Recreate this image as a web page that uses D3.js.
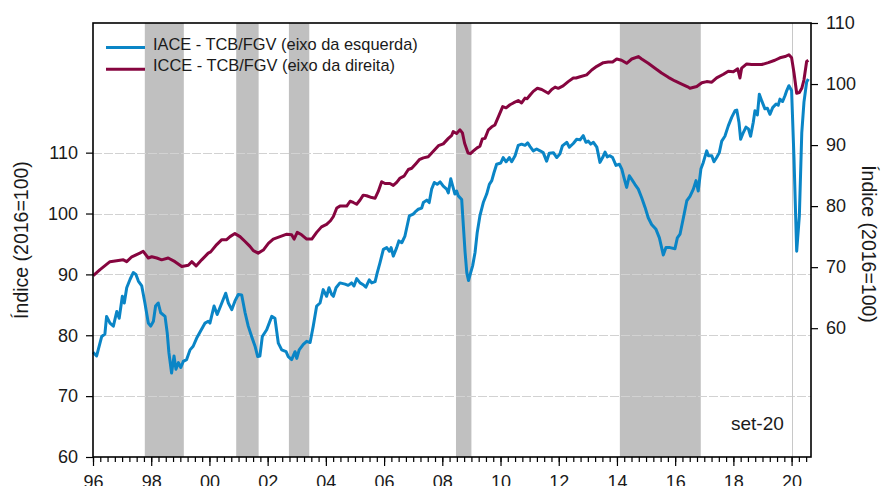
<!DOCTYPE html>
<html>
<head>
<meta charset="utf-8">
<script src="https://cdn.jsdelivr.net/npm/d3@7"></script>
<style>
  body { margin: 0; background: #fff; }
  svg text { font-family: "Liberation Sans", Arial, sans-serif; fill: #1a1a1a; }
</style>
</head>
<body>
<div class="plot"></div>
<script>
// month offsets from Jan 1996 and index values
var iaceMonth = [0, 1.5, 3.6, 4.9, 5.6, 7.0, 8.4, 9.8, 10.8, 12.1, 12.9, 13.9, 15.3, 16.6, 17.7, 18.7, 20.1, 21.4, 22.8, 23.8,
  24.9, 25.8, 26.9, 27.9, 29.7, 30.6, 31.3, 32.4, 33.4, 34.2, 35.2, 36.2, 37.2, 38.6, 40.0, 41.3, 42.7, 46.2, 47.5, 48.2,
  49.9, 51.2, 53.1, 54.7, 55.8, 57.2, 58.5, 59.9, 61.3, 62.7, 64.0, 65.4, 66.8, 67.9, 68.8, 69.8, 71.6, 73.7, 75.0, 76.4,
  77.8, 79.6, 80.5, 81.9, 83.3, 84.0, 85.0, 86.7, 88.1, 89.5, 90.8, 92.2, 93.6, 94.9, 96.3, 97.3, 98.4, 99.1, 100.2, 101.8,
  103.9, 105.2, 106.6, 107.6, 108.7, 110.1, 111.4, 112.5, 113.9, 114.9, 116.3, 117.2, 118.3, 119.7, 121.1, 122.2, 122.9, 123.8, 125.2, 126.1,
  127.3, 128.6, 130.4, 132.0, 133.2, 134.1, 135.5, 136.2, 137.6, 138.6, 139.6, 140.7, 141.9, 143.1, 144.4, 145.8, 146.5, 147.5, 148.3, 149.2,
  149.9, 150.6, 152.0, 152.7, 153.4, 154.1, 154.8, 155.7, 156.5, 157.5, 158.4, 159.5, 160.9, 162.3, 163.4, 164.4, 165.3, 166.4, 168.1, 169.1,
  170.3, 171.6, 172.6, 174.0, 175.3, 176.7, 178.1, 179.2, 180.2, 181.5, 182.9, 184.3, 185.6, 187.0, 188.1, 189.8, 191.2, 192.5, 193.5, 195.3,
  196.4, 198.0, 199.4, 200.8, 202.1, 203.2, 204.2, 205.2, 206.3, 207.7, 209.0, 210.1, 211.1, 212.0, 213.1, 214.2, 215.6, 217.0, 218.0, 218.9,
  220.0, 221.1, 222.1, 223.4, 224.8, 226.2, 227.6, 228.9, 230.3, 232.1, 233.5, 235.1, 236.2, 237.9, 239.9, 240.9, 242.0, 243.4, 244.8, 246.1,
  247.5, 248.6, 249.5, 250.6, 251.6, 253.0, 253.7, 255.1, 256.0, 257.1, 258.2, 259.2, 260.5, 261.9, 263.3, 264.7, 265.4, 266.3, 267.0, 268.1,
  269.2, 270.2, 271.1, 272.2, 272.9, 273.9, 274.7, 275.7, 277.0, 278.0, 279.1, 280.2, 281.6, 282.5, 283.2, 284.3, 285.3, 286.0, 286.9, 288.0,
  289.0, 290.1, 291.2, 292.2, 293.1, 294.2, 294.9];
var iaceValue = [77.2, 76.6, 79.8, 80.2, 83.1, 82.0, 81.5, 83.9, 82.8, 86.4, 85.3, 87.8, 89.2, 90.3, 90.0, 88.9, 88.1, 85.3, 82.0, 81.5,
  82.3, 84.8, 85.3, 83.7, 83.1, 80.4, 77.1, 73.8, 76.6, 74.4, 75.5, 74.7, 75.7, 76.0, 77.6, 78.2, 79.5, 82.0, 82.3, 82.0,
  84.8, 83.4, 85.3, 86.9, 85.3, 84.2, 85.6, 86.7, 86.6, 83.7, 81.5, 79.8, 78.2, 76.5, 76.6, 79.8, 80.9, 83.1, 82.8, 78.7,
  77.6, 77.3, 76.5, 76.0, 77.3, 76.2, 77.6, 78.5, 79.0, 78.8, 81.5, 84.8, 85.3, 87.5, 86.4, 87.8, 86.7, 86.4, 87.8, 88.6,
  88.4, 88.2, 88.6, 88.1, 89.3, 88.6, 88.3, 87.9, 89.1, 88.6, 88.8, 90.3, 91.9, 94.1, 94.4, 93.8, 94.4, 93.0, 94.4, 95.5,
  95.2, 96.3, 99.6, 99.9, 100.4, 100.7, 100.9, 101.8, 102.2, 101.8, 104.0, 105.1, 104.8, 105.2, 104.5, 104.0, 103.4, 105.7, 104.5, 103.2,
  103.7, 102.9, 102.3, 97.9, 93.6, 90.3, 89.0, 90.3, 91.4, 93.6, 96.9, 99.6, 101.8, 103.2, 104.8, 105.4, 106.7, 108.1, 108.3, 109.2,
  108.5, 109.2, 108.5, 109.5, 111.2, 111.4, 111.2, 111.6, 111.0, 110.3, 110.6, 110.3, 110.0, 108.6, 109.9, 110.0, 109.2, 109.8, 111.1, 111.7,
  110.9, 111.5, 112.2, 112.1, 112.8, 111.7, 111.9, 111.4, 111.7, 110.9, 108.4, 109.2, 110.1, 109.3, 109.5, 109.2, 107.9, 108.1, 107.3, 105.9,
  104.3, 106.2, 105.6, 104.8, 104.0, 102.6, 101.0, 99.3, 98.2, 97.4, 96.0, 93.2, 94.4, 94.4, 94.2, 96.0, 96.6, 99.3, 102.1, 102.8,
  104.0, 105.4, 103.7, 107.3, 108.4, 110.3, 109.5, 109.5, 108.5, 109.2, 110.0, 111.9, 112.7, 114.4, 115.8, 116.9, 117.0, 115.0, 112.2, 113.3,
  114.2, 113.9, 112.7, 115.0, 116.9, 116.2, 119.6, 118.5, 117.2, 117.3, 116.3, 117.4, 118.0, 117.8, 118.8, 118.4, 119.4, 120.2, 121.0, 120.2,
  108.9, 93.8, 99.6, 113.3, 118.3, 121.6, 122.1];

var icceMonth = [0.1, 2.9, 7.0, 12.5, 13.9, 16.0, 19.3, 20.7, 22.8, 24.2, 26.3, 28.3, 31.0, 33.8, 36.6, 39.3, 40.7, 42.5, 44.8, 47.5,
  48.5, 51.0, 53.1, 55.1, 56.5, 58.5, 60.6, 62.7, 64.7, 66.1, 68.1, 70.2, 72.3, 74.3, 77.1, 79.9, 81.9, 82.9, 84.2, 86.0,
  88.1, 90.2, 92.2, 94.2, 96.3, 97.9, 99.1, 100.5, 101.8, 104.6, 106.0, 107.3, 108.7, 110.1, 111.4, 112.8, 114.9, 116.3, 117.6, 119.0,
  120.4, 122.4, 123.8, 125.2, 126.6, 128.2, 130.0, 131.4, 133.2, 134.5, 136.2, 138.2, 140.3, 142.4, 144.4, 146.5, 147.9, 148.5, 149.9, 151.3,
  152.3, 153.2, 154.6, 155.6, 156.7, 158.2, 159.5, 160.5, 161.6, 163.0, 164.4, 165.7, 167.5, 168.9, 170.3, 171.9, 173.3, 175.3, 176.7, 178.1,
  179.0, 180.2, 181.5, 183.2, 185.0, 187.7, 189.1, 190.5, 191.8, 193.8, 195.9, 198.0, 199.1, 200.8, 203.5, 205.6, 207.7, 210.4, 212.4, 214.2,
  215.9, 217.9, 220.0, 222.1, 224.8, 226.2, 228.9, 231.7, 234.4, 237.2, 239.9, 242.7, 245.4, 246.1, 248.9, 251.0, 253.0, 255.1, 257.1, 259.9,
  261.9, 264.0, 265.8, 266.7, 267.4, 269.5, 271.5, 273.6, 275.7, 278.4, 281.1, 283.2, 285.3, 286.9, 288.0, 289.0, 290.1, 291.2, 292.2, 293.1,
  294.2, 294.9];
var icceValue = [68.6, 69.6, 70.9, 71.2, 70.9, 71.7, 72.3, 72.6, 71.5, 71.7, 71.5, 71.2, 71.5, 70.9, 70.1, 70.3, 70.9, 70.2, 71.2, 72.3,
  72.5, 73.7, 74.5, 74.5, 75.0, 75.5, 75.0, 74.2, 73.4, 72.7, 72.3, 72.8, 73.9, 74.6, 75.0, 75.4, 75.3, 74.6, 75.7, 75.3,
  74.6, 74.6, 75.7, 76.6, 77.0, 77.6, 78.3, 79.7, 80.0, 80.0, 80.8, 80.6, 80.3, 81.0, 81.8, 81.7, 81.4, 81.3, 82.4, 84.0,
  83.7, 83.7, 83.4, 83.9, 84.6, 84.9, 86.0, 86.2, 87.0, 87.6, 87.9, 88.1, 89.0, 89.9, 90.2, 91.1, 91.6, 92.2, 91.9, 92.5,
  92.0, 90.3, 88.7, 88.6, 89.0, 89.5, 89.8, 91.0, 91.1, 92.5, 93.0, 93.3, 95.0, 96.3, 96.1, 96.6, 96.9, 97.3, 96.9, 97.7,
  97.6, 98.2, 98.8, 99.3, 99.1, 98.5, 99.1, 99.5, 99.3, 99.7, 100.4, 101.0, 101.0, 101.2, 101.5, 102.3, 102.9, 103.5, 103.6, 103.6,
  104.1, 103.9, 103.4, 104.1, 104.5, 104.1, 103.4, 102.6, 101.8, 101.1, 100.5, 100.0, 99.5, 99.3, 99.6, 100.2, 100.4, 100.3, 101.0, 101.6,
  102.1, 102.0, 102.5, 101.0, 102.6, 103.3, 103.2, 103.2, 103.2, 103.5, 103.9, 104.3, 104.5, 104.8, 104.3, 101.8, 98.5, 98.6, 99.3, 100.7,
  103.7, 103.9];

// shaded periods (decimal years)
var bandStart = [1997.78, 2000.92, 2002.73, 2008.47, 2014.10];
var bandEnd = [1999.12, 2001.69, 2003.43, 2009.00, 2016.88];

var yearTicks = [1996, 1998, 2000, 2002, 2004, 2006, 2008, 2010, 2012, 2014, 2016, 2018, 2020];
var leftTicks = [60, 70, 80, 90, 100, 110];
var rightTicks = [60, 70, 80, 90, 100, 110];

var W = 881, H = 486;
var pL = 93, pR = 811, pT = 23, pB = 457;

var svg = d3.select(".plot").append("svg")
  .attr("width", W).attr("height", H);

// month index -> x
var x = d3.scaleLinear().domain([0, 296]).range([pL, pR]);
var yL = d3.scaleLinear().domain([60, 131.3]).range([pB, pT]);
var yR = d3.scaleLinear().domain([38.9, 110]).range([pB, pT]);

function yearToMonth(y) { return (y - 1996) * 12; }

// shaded bands
svg.append("g").selectAll("rect")
  .data(bandStart)
  .enter().append("rect")
  .attr("x", function (d) { return x(yearToMonth(d)); })
  .attr("width", function (d, i) { return x(yearToMonth(bandEnd[i])) - x(yearToMonth(d)); })
  .attr("y", pT)
  .attr("height", pB - pT)
  .style("fill", "#c0c0c0");

// horizontal gridlines (left scale)
svg.append("g").selectAll("line")
  .data(leftTicks.slice(1))
  .enter().append("line")
  .attr("x1", pL).attr("x2", pR)
  .attr("y1", function (d) { return Math.round(yL(d)) + 0.5; })
  .attr("y2", function (d) { return Math.round(yL(d)) + 0.5; })
  .style("stroke", "#d2d2d2")
  .style("stroke-width", 1)
  .style("stroke-dasharray", "9,2");

// vertical line at 2020
svg.append("line")
  .attr("x1", Math.round(x(yearToMonth(2020))) + 0.5)
  .attr("x2", Math.round(x(yearToMonth(2020))) + 0.5)
  .attr("y1", pT).attr("y2", pB)
  .style("stroke", "#c8c8c8")
  .style("stroke-width", 1);

// lines
var iaceData = iaceMonth.map(function (m, i) { return [m, iaceValue[i]]; });
var icceData = icceMonth.map(function (m, i) { return [m, icceValue[i]]; });

var lineL = d3.line()
  .x(function (d) { return x(d[0]); })
  .y(function (d) { return yL(d[1]); });
var lineR = d3.line()
  .x(function (d) { return x(d[0]); })
  .y(function (d) { return yR(d[1]); });

svg.append("path")
  .datum(icceData)
  .attr("d", lineR)
  .style("fill", "none")
  .style("stroke", "#86053f")
  .style("stroke-width", 3)
  .style("stroke-linejoin", "round");

svg.append("path")
  .datum(iaceData)
  .attr("d", lineL)
  .style("fill", "none")
  .style("stroke", "#0a85c6")
  .style("stroke-width", 3)
  .style("stroke-linejoin", "round");

// frame
svg.append("rect")
  .attr("x", pL).attr("y", pT)
  .attr("width", pR - pL).attr("height", pB - pT)
  .style("fill", "none")
  .style("stroke", "#000")
  .style("stroke-width", 1.6);

// bottom axis: quarterly minor ticks + 2-year labels
var minorAxis = d3.axisBottom(x)
  .tickValues(d3.range(0, 297, 3))
  .tickSize(5)
  .tickSizeOuter(0)
  .tickFormat("");
svg.append("g")
  .attr("transform", "translate(0," + pB + ")")
  .call(minorAxis)
  .call(function (g) { g.select(".domain").remove(); });

var majorAxis = d3.axisBottom(x)
  .tickValues(yearTicks.map(yearToMonth))
  .tickSize(9)
  .tickSizeOuter(0)
  .tickPadding(9)
  .tickFormat(function (d) { return d3.format("02")((1996 + d / 12) % 100); });
svg.append("g")
  .attr("transform", "translate(0," + pB + ")")
  .call(majorAxis)
  .call(function (g) { g.select(".domain").remove(); })
  .selectAll("text").style("font-size", "18px");

// left axis
svg.append("g")
  .attr("transform", "translate(" + pL + ",0)")
  .call(d3.axisLeft(yL).tickValues(leftTicks).tickSize(7).tickPadding(8).tickSizeOuter(0))
  .call(function (g) { g.select(".domain").remove(); })
  .selectAll("text").style("font-size", "18px");

// right axis
svg.append("g")
  .attr("transform", "translate(" + pR + ",0)")
  .call(d3.axisRight(yR).tickValues(rightTicks).tickSize(7).tickPadding(8).tickSizeOuter(0))
  .call(function (g) { g.select(".domain").remove(); })
  .selectAll("text").style("font-size", "18px");

svg.selectAll(".tick line").style("stroke", "#000").style("stroke-width", 1.2);

// axis titles
svg.append("text")
  .attr("transform", "translate(28,240) rotate(-90)")
  .style("text-anchor", "middle")
  .style("font-size", "19.5px")
  .text("Índice (2016=100)");

svg.append("text")
  .attr("transform", "translate(862,244) rotate(90)")
  .style("text-anchor", "middle")
  .style("font-size", "19.5px")
  .text("Índice (2016=100)");

// legend
var legendNames = ["IACE - TCB/FGV (eixo da esquerda)", "ICCE - TCB/FGV (eixo da direita)"];
var legendColors = ["#0a85c6", "#86053f"];
legendNames.forEach(function (name, i) {
  var ly = 47.5 + i * 21.8;
  svg.append("line")
    .attr("x1", 106).attr("x2", 145)
    .attr("y1", ly).attr("y2", ly)
    .style("stroke", legendColors[i])
    .style("stroke-width", 3);
  svg.append("text")
    .attr("x", 153).attr("y", ly + 2)
    .style("font-size", "16.4px")
    .text(name);
});

// date note
svg.append("text")
  .attr("x", 731).attr("y", 430)
  .style("font-size", "19px")
  .text("set-20");
</script>
</body>
</html>
